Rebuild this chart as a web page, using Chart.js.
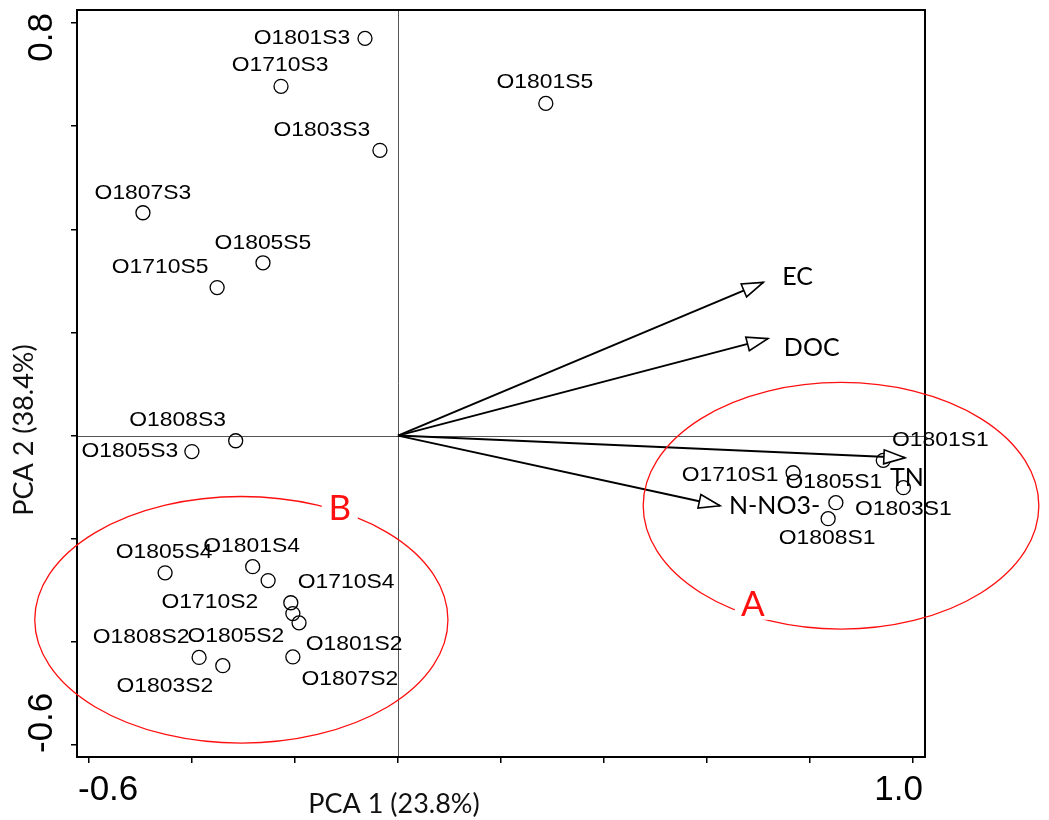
<!DOCTYPE html>
<html>
<head>
<meta charset="utf-8">
<script src="https://cdn.jsdelivr.net/npm/chart.js@4.4.0/dist/chart.umd.min.js"></script>
<style>
  html, body { margin: 0; padding: 0; background: #fff; }
  .wrap { width: 1049px; height: 820px; position: relative; }
</style>
</head>
<body>
<div class="wrap"><canvas id="pcaChart"></canvas></div>
<script>
// sample scores (PCA 1 / PCA 2)
const sampleNames = ['O1801S3', 'O1710S3', 'O1803S3', 'O1807S3', 'O1805S5', 'O1710S5', 'O1801S5',
    'O1808S3', 'O1805S3', 'O1805S4', 'O1801S4', 'O1710S4', 'O1710S2', 'O1805S2', 'O1801S2',
    'O1807S2', 'O1808S2', 'O1803S2', 'O1801S1', 'O1710S1', 'O1805S1', 'O1808S1', 'O1803S1'];
const pc1 = [-0.064, -0.227, -0.035, -0.495, -0.262, -0.351, 0.287,
    -0.315, -0.400, -0.452, -0.282, -0.252, -0.208, -0.204, -0.192,
    -0.204, -0.386, -0.340, 0.942, 0.767, 0.850, 0.835, 0.981];
const pc2 = [0.770, 0.677, 0.553, 0.432, 0.335, 0.287, 0.644,
    -0.010, -0.031, -0.266, -0.254, -0.281, -0.324, -0.345, -0.363,
    -0.429, -0.430, -0.446, -0.048, -0.072, -0.130, -0.161, -0.101];

// environmental variables (arrows)
const varNames = ['EC', 'DOC', 'TN', 'N-NO3-'];
const varPc1 = [0.709, 0.718, 0.984, 0.625];
const varPc2 = [0.297, 0.188, -0.043, -0.136];

// tick labels shown on the axes
const xTickLabels = ['-0.6', '1.0'];
const yTickLabels = ['0.8', '-0.6'];

const groupNames = ['A', 'B'];

// ---- layout only below ----
// label offsets (px) from each sample point to the centre of its text
const labelOffsets = [
    [-63, 0], [-1, -21], [-58, -20], [0, -20], [0, -20], [-57, -20], [-1, -21],
    [-58, -21], [-62, 0], [-1, -21], [-1, -20], [78, 2], [-81, -1], [-57, 23], [55, 21],
    [57, 22], [-58, -20], [-58, 21], [57, -20], [-63, 2], [-2, -20], [-1, 20], [0, 21]
];
// offsets (px) from arrow tip to left edge / middle of the variable label
const varLabelOffsets = [[19, -5], [16, 9], [-15, 20], [9, 0]];
// ellipses in data units: centre, radii, and where the letter sits
const groupShapes = [
    { cx: 0.860, cy: -0.136, rx: 0.384, ry: 0.239, lx: 0.689, ly: -0.326 },
    { cx: -0.304, cy: -0.357, rx: 0.401, ry: 0.239, lx: -0.113, ly: -0.140 }
];

const samplePoints = pc1.map((v, i) => ({ x: v, y: pc2[i] }));

const arrowSets = varNames.map((name, i) => ({
    label: name,
    data: [{ x: 0, y: 0 }, { x: varPc1[i], y: varPc2[i] }],
    showLine: true,
    borderColor: '#000',
    borderWidth: 2,
    pointRadius: 0,
    clip: false
}));

const biplotExtras = {
    id: 'biplotExtras',
    beforeDatasetsDraw(chart) {
        const { ctx, chartArea: a, scales: { x, y } } = chart;
        ctx.save();
        ctx.strokeStyle = '#555';
        ctx.lineWidth = 1;
        const x0 = Math.round(x.getPixelForValue(0)) + 0.5;
        const y0 = Math.round(y.getPixelForValue(0)) + 0.5;
        ctx.beginPath();
        ctx.moveTo(x0, a.top); ctx.lineTo(x0, a.bottom);
        ctx.moveTo(a.left, y0); ctx.lineTo(a.right, y0);
        ctx.stroke();
        ctx.restore();
    },
    afterDatasetsDraw(chart) {
        const { ctx, scales: { x, y } } = chart;
        ctx.save();
        // open arrow heads
        const ox = x.getPixelForValue(0), oy = y.getPixelForValue(0);
        varNames.forEach((name, i) => {
            const tx = x.getPixelForValue(varPc1[i]);
            const ty = y.getPixelForValue(varPc2[i]);
            const ang = Math.atan2(ty - oy, tx - ox);
            const len = 21, half = 7;
            const bx = tx - len * Math.cos(ang), by = ty - len * Math.sin(ang);
            ctx.beginPath();
            ctx.moveTo(tx, ty);
            ctx.lineTo(bx + half * Math.sin(ang), by - half * Math.cos(ang));
            ctx.lineTo(bx - half * Math.sin(ang), by + half * Math.cos(ang));
            ctx.closePath();
            ctx.fillStyle = '#fff';
            ctx.fill();
            ctx.strokeStyle = '#000';
            ctx.lineWidth = 1.6;
            ctx.stroke();
            ctx.fillStyle = '#000';
            ctx.font = '25px Lato';
            ctx.textAlign = 'left';
            ctx.textBaseline = 'middle';
            ctx.fillText(name, tx + varLabelOffsets[i][0], ty + varLabelOffsets[i][1]);
        });
        // sample labels (slightly widened Arial-like text)
        ctx.font = '21px "Liberation Sans"';
        ctx.fillStyle = '#000';
        ctx.textAlign = 'center';
        ctx.textBaseline = 'middle';
        sampleNames.forEach((name, i) => {
            const px = x.getPixelForValue(pc1[i]);
            const py = y.getPixelForValue(pc2[i]);
            ctx.save();
            ctx.translate(px + labelOffsets[i][0], py + labelOffsets[i][1]);
            ctx.scale(1.09, 1);
            ctx.fillText(name, 0, 0);
            ctx.restore();
        });
        ctx.restore();
    },
    afterDraw(chart) {
        const { ctx, chartArea: a, scales: { x, y } } = chart;
        ctx.save();
        // frame
        ctx.strokeStyle = '#000';
        ctx.lineWidth = 2;
        ctx.strokeRect(a.left, a.top, a.right - a.left, a.bottom - a.top);

        // tick labels, pulled in to the plot edges
        ctx.fillStyle = '#000';
        ctx.font = '35px "Liberation Sans"';
        ctx.textBaseline = 'middle';
        ctx.textAlign = 'left';
        ctx.fillText(xTickLabels[0], a.left + 1, a.bottom + 33);
        ctx.textAlign = 'right';
        ctx.fillText(xTickLabels[1], a.right - 2, a.bottom + 33);
        ctx.save();
        ctx.translate(a.left - 35, a.top + 3);
        ctx.rotate(-Math.PI / 2);
        ctx.textAlign = 'right';
        ctx.fillText(yTickLabels[0], 0, 0);
        ctx.restore();
        ctx.save();
        ctx.translate(a.left - 35, a.bottom - 4);
        ctx.rotate(-Math.PI / 2);
        ctx.textAlign = 'left';
        ctx.fillText(yTickLabels[1], 0, 0);
        ctx.restore();

        // axis titles
        ctx.font = '27px Lato';
        ctx.textAlign = 'center';
        ctx.fillStyle = '#111';
        ctx.fillText('PCA 1 (23.8%)', 394, 804);
        ctx.save();
        ctx.translate(24, 430);
        ctx.rotate(-Math.PI / 2);
        ctx.fillText('PCA 2 (38.4%)', 0, 0);
        ctx.restore();

        // group ellipses
        groupShapes.forEach((g, i) => {
            const cx = x.getPixelForValue(g.cx), cy = y.getPixelForValue(g.cy);
            const rx = Math.abs(x.getPixelForValue(g.cx + g.rx) - cx);
            const ry = Math.abs(y.getPixelForValue(g.cy + g.ry) - cy);
            ctx.beginPath();
            ctx.ellipse(cx, cy, rx, ry, 0, 0, Math.PI * 2);
            ctx.strokeStyle = '#ff1010';
            ctx.lineWidth = 1.3;
            ctx.stroke();
            const lx = x.getPixelForValue(g.lx), ly = y.getPixelForValue(g.ly);
            ctx.fillStyle = '#fff';
            ctx.fillRect(lx - 18, ly - 16, 36, 32);
            ctx.fillStyle = '#ff1010';
            ctx.font = '35px Lato';
            ctx.textAlign = 'center';
            ctx.textBaseline = 'middle';
            ctx.fillText(groupNames[i], lx, ly + 1);
        });
        ctx.restore();
    }
};

const ctx = document.getElementById('pcaChart').getContext('2d');
const pcaChart = new Chart(ctx, {
    type: 'scatter',
    data: {
        datasets: [{
            label: 'samples',
            data: samplePoints,
            pointStyle: 'circle',
            pointRadius: 7,
            pointBorderWidth: 1.3,
            pointBorderColor: '#000',
            pointBackgroundColor: 'rgba(0,0,0,0)',
            clip: false
        }].concat(arrowSets)
    },
    options: {
        responsive: true,
        maintainAspectRatio: false,
        animation: false,
        layout: { padding: { left: 71, top: 10, right: 124, bottom: 57 } },
        plugins: {
            legend: { display: false },
            tooltip: { enabled: false }
        },
        scales: {
            x: {
                type: 'linear',
                min: -0.623,
                max: 1.023,
                ticks: { stepSize: 0.2, includeBounds: false, display: false },
                grid: { drawOnChartArea: false, drawTicks: true, tickLength: 6, color: '#000', lineWidth: 1.5 },
                border: { display: true, color: '#000', width: 2 }
            },
            y: {
                type: 'linear',
                min: -0.623,
                max: 0.825,
                ticks: { stepSize: 0.2, includeBounds: false, display: false },
                grid: { drawOnChartArea: false, drawTicks: true, tickLength: 6, color: '#000', lineWidth: 1.5 },
                border: { display: true, color: '#000', width: 2 }
            }
        }
    },
    plugins: [biplotExtras]
});
</script>
</body>
</html>
